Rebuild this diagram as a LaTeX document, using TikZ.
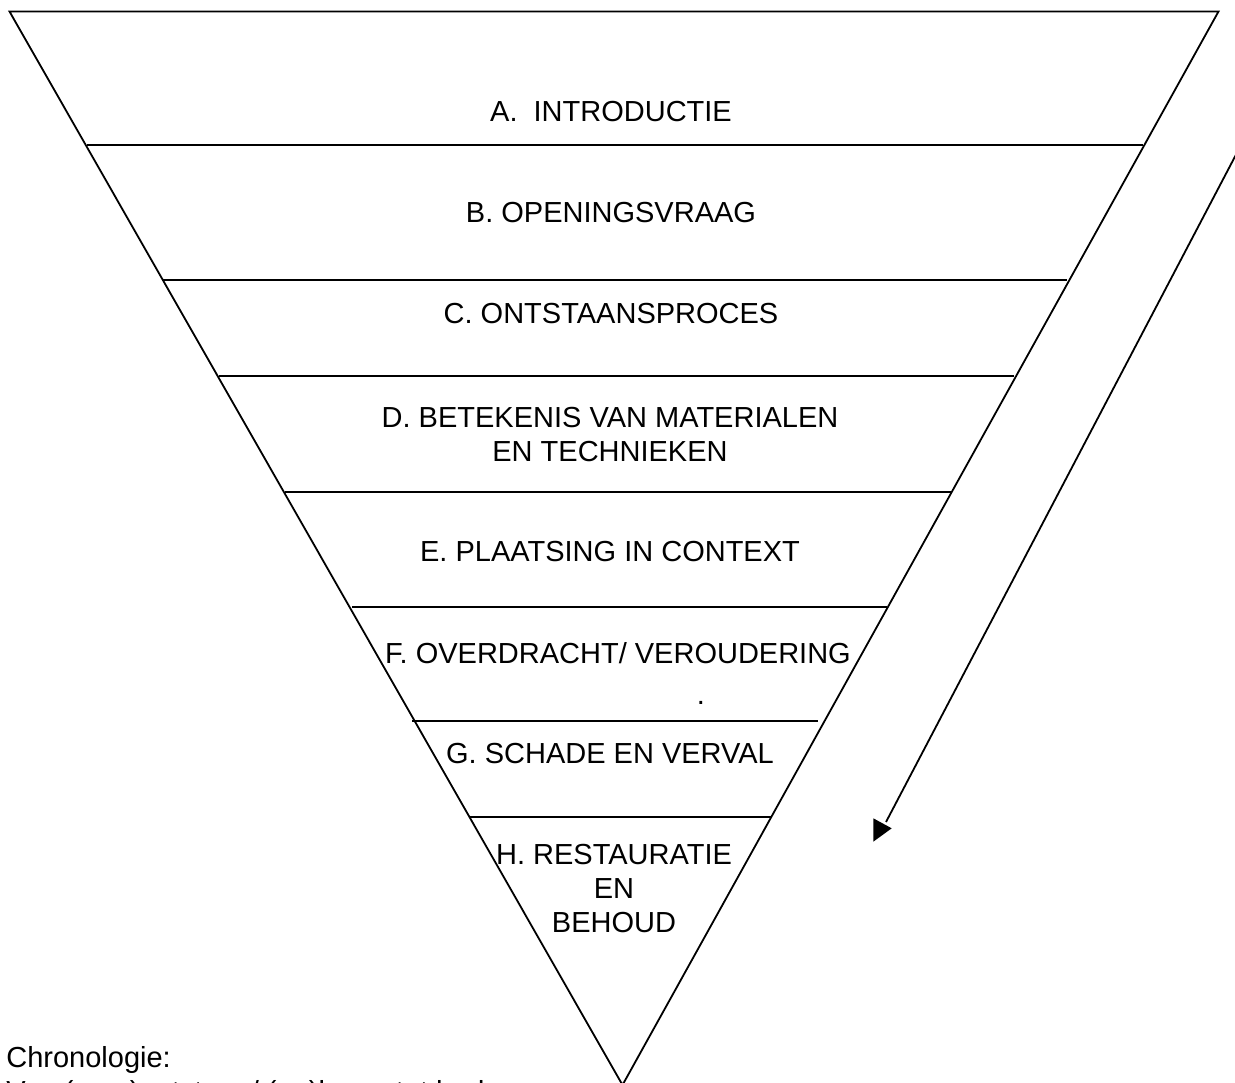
\documentclass[tikz,border=0pt]{standalone}
\usepackage{fontspec}
\setmainfont{Liberation Sans}
\begin{document}
\begin{tikzpicture}[x=1pt,y=-1pt,line width=1.8pt,
  lbl/.style={font=\fontsize{29}{34.3}\selectfont,inner sep=0pt,align=center},
  note/.style={font=\fontsize{29}{34.3}\selectfont,inner sep=0pt,align=left}]
\useasboundingbox (0,0) rectangle (1235,1083);
% funnel outline
\coordinate (TL) at (9.5,11.5);
\coordinate (TR) at (1218.5,11.5);
\coordinate (AP) at (622.5,1085);
\draw (TL) -- (TR) -- (AP) -- cycle;
% separators
\foreach \yy/\aa/\bb [count=\i] in {145/87/1143, 280/163/1067, 376/219/1014, 492/285/951, 607/352/887, 721/412/818, 817/470/772}{
  \coordinate (L\i) at (\aa,\yy);
  \coordinate (R\i) at (\bb,\yy);
  \draw (L\i) -- (R\i);
}
% labels
\node[lbl,anchor=base] (a) at (611,121.7) {A.\ \ INTRODUCTIE};
\node[lbl,anchor=base] (b) at (611,222.7) {B. OPENINGSVRAAG};
\node[lbl,anchor=base] (c) at (611,324) {C. ONTSTAANSPROCES};
\node[lbl,anchor=north] (d) at (610,406) {D. BETEKENIS VAN MATERIALEN\\EN TECHNIEKEN};
\node[lbl,anchor=base] (e) at (610,561) {E. PLAATSING IN CONTEXT};
\node[lbl,anchor=base] (f) at (618,663) {F. OVERDRACHT/ VEROUDERING};
\node[lbl,anchor=south] (dot) at (701,705) {.};
\node[lbl,anchor=base] (g) at (610,763) {G. SCHADE EN VERVAL};
\node[lbl,anchor=north] (h) at (614,843) {H. RESTAURATIE\\EN\\BEHOUD};
% arrow
\coordinate (arrS) at (1240,147);
\coordinate (arrE) at (886,822);
\coordinate (h1) at (873.3,818.3);
\coordinate (h2) at (873.3,841.7);
\coordinate (h3) at (891.7,828.3);
\draw (arrS) -- (arrE);
\fill (h1) -- (h2) -- (h3) -- cycle;
% chronology note
\node[note,anchor=north west] (chr) at (5.5,1045.2) {Chronologie:\\Van (voor)ontstaan/ (na)leven tot heden};
\end{tikzpicture}
\end{document}
